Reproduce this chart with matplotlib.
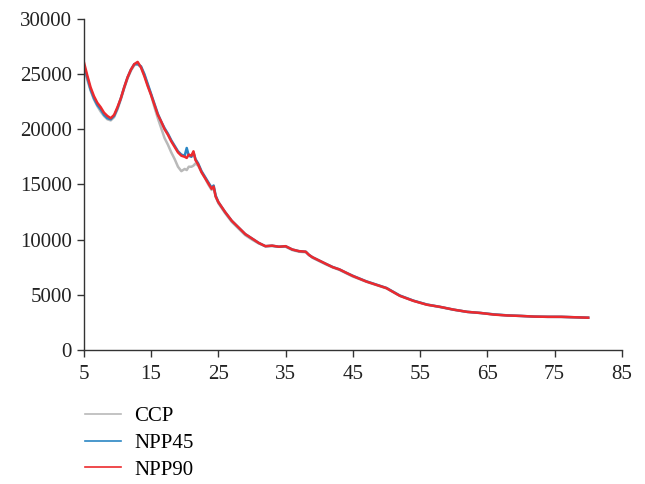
import matplotlib.pyplot as plt

# 2theta (deg)
two_theta = [5, 5.5, 6, 6.5, 7, 7.5, 8, 8.5, 9, 9.5, 10, 10.5, 11, 11.5, 12, 12.5, 13, 13.5,
             14, 14.5, 15, 15.5, 16, 16.5, 17, 17.5, 18, 18.5, 19, 19.5, 20, 20.3, 20.6, 21,
             21.3, 21.6, 22, 22.5, 23, 23.5, 24, 24.3, 24.6, 25, 26, 27, 28, 29, 30, 31, 32,
             33, 34, 35, 36, 37, 38, 38.5, 39, 40, 41, 42, 43, 44, 45, 46, 47, 48, 49, 50,
             52, 54, 56, 58, 60, 62, 64, 66, 68, 70, 72, 74, 76, 78, 80]

ccp = [25600, 24500, 23500, 22700, 22100, 21600, 21200, 20900, 20800, 21100, 21800, 22700,
       23700, 24600, 25300, 25800, 25900, 25600, 24900, 24000, 23100, 22000, 21000, 20100,
       19200, 18600, 17900, 17300, 16600, 16200, 16400, 16300, 16600, 16600, 16700, 16900,
       16700, 16100, 15600, 15000, 14500, 14700, 13900, 13300, 12400, 11600, 11000, 10400,
       10000, 9650, 9400, 9400, 9350, 9350, 9050, 8900, 8850, 8600, 8350, 8050, 7750, 7480,
       7250, 6950, 6650, 6420, 6180, 5980, 5780, 5580, 4900, 4450, 4100, 3880, 3640, 3450,
       3340, 3220, 3130, 3080, 3020, 3000, 2990, 2960, 2920]

npp45 = [25800, 24700, 23600, 22800, 22200, 21800, 21300, 21000, 20900, 21200, 21900, 22800,
         23800, 24700, 25400, 25900, 25900, 25700, 25000, 24100, 23200, 22300, 21400, 20700,
         20100, 19600, 19000, 18500, 18000, 17700, 17600, 18300, 17600, 17500, 17900, 17300,
         16900, 16200, 15700, 15200, 14700, 14900, 14000, 13400, 12500, 11700, 11100, 10500,
         10100, 9700, 9400, 9450, 9350, 9400, 9100, 8950, 8900, 8600, 8400, 8100, 7800, 7520,
         7300, 7000, 6720, 6470, 6220, 6020, 5820, 5620, 4930, 4470, 4120, 3900, 3650, 3450,
         3350, 3220, 3130, 3080, 3020, 3000, 3000, 2960, 2920]

npp90 = [26100, 24900, 23800, 23000, 22400, 22000, 21500, 21200, 21000, 21300, 22000, 22800,
         23800, 24700, 25400, 25900, 26100, 25600, 24800, 23900, 23100, 22200, 21300, 20700,
         20000, 19500, 18900, 18400, 17900, 17600, 17500, 17400, 17700, 17600, 18000, 17200,
         16800, 16100, 15600, 15100, 14600, 14800, 13900, 13400, 12500, 11700, 11100, 10500,
         10100, 9700, 9400, 9450, 9350, 9400, 9100, 8950, 8900, 8600, 8400, 8100, 7800, 7500,
         7300, 7000, 6700, 6450, 6200, 6000, 5800, 5600, 4900, 4450, 4100, 3900, 3650, 3450,
         3350, 3200, 3120, 3080, 3020, 3000, 3000, 2960, 2920]

plt.rcParams['font.family'] = ['Liberation Serif', 'DejaVu Serif']

fig = plt.figure(figsize=(6.45, 4.84), dpi=100)
ax = fig.add_axes([0.130, 0.277, 0.834, 0.684])

ax.plot(two_theta, ccp, color='#b9b9b9', lw=1.8, label='CCP')
ax.plot(two_theta, npp45, color='#2a86c4', lw=1.8, label='NPP45')
ax.plot(two_theta, npp90, color='#ec2a2e', lw=1.8, label='NPP90')

ax.set_xlim(5, 85)
ax.set_ylim(0, 30000)
ax.set_xticks(range(5, 86, 10))
ax.set_yticks(range(0, 30001, 5000))
for s in ['top', 'right']:
    ax.spines[s].set_visible(False)
for s in ['left', 'bottom']:
    ax.spines[s].set_color('#333333')
    ax.spines[s].set_linewidth(1.0)
ax.tick_params(direction='out', length=5, width=1, color='#333333',
               labelsize=15, labelcolor='#222222')
ax.tick_params(axis='x', pad=6)

leg = fig.legend(loc='upper left', bbox_to_anchor=(0.102, 0.199), frameon=False,
                 fontsize=15, handlelength=1.75, labelspacing=0.35, handletextpad=0.65)
for ln in leg.get_lines():
    ln.set_linewidth(1.2)

fig.savefig('out.png', dpi=100)
